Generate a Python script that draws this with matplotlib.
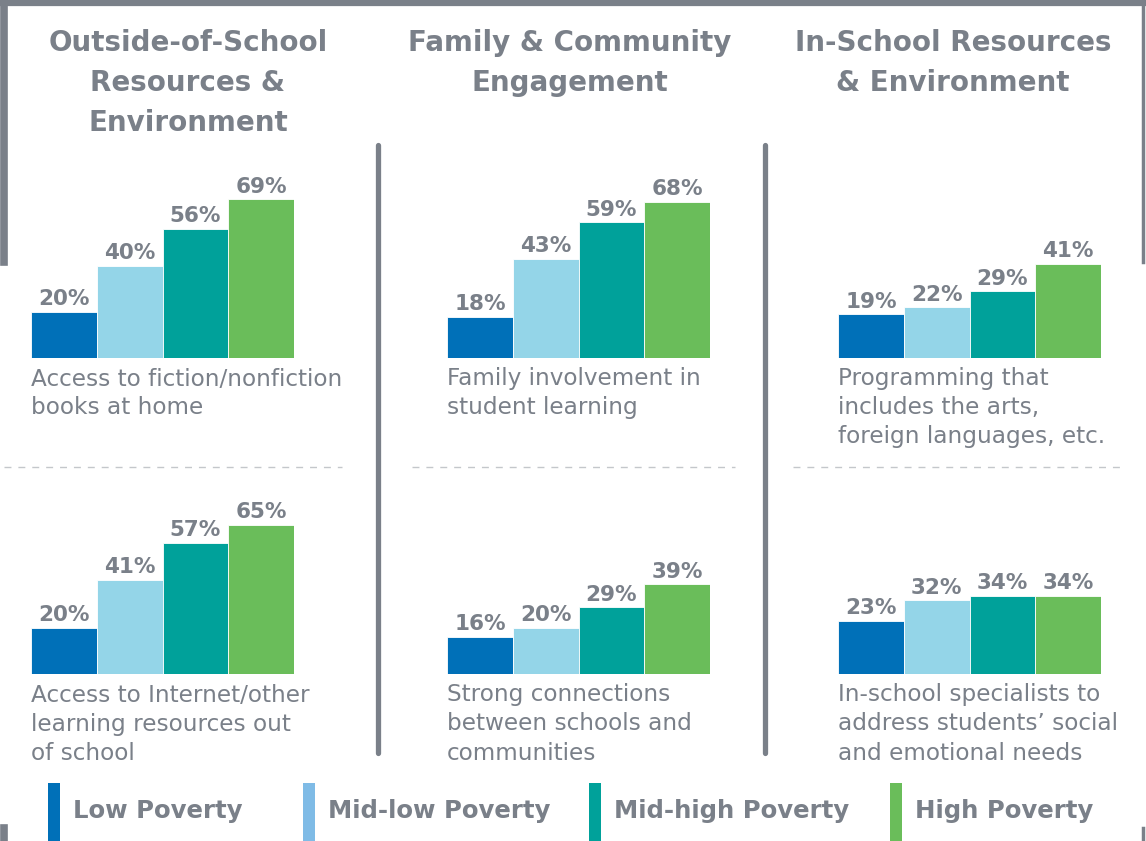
import matplotlib
matplotlib.use("Agg")
import matplotlib.pyplot as plt
from matplotlib.lines import Line2D
from matplotlib.patches import Rectangle

# data
groups = ["Low Poverty", "Mid-low Poverty", "Mid-high Poverty", "High Poverty"]
panel_titles = [
    ["Outside-of-School", "Resources &", "Environment"],
    ["Family & Community", "Engagement"],
    ["In-School Resources", "& Environment"],
]
top_labels = [
    ["Access to fiction/nonfiction", "books at home"],
    ["Family involvement in", "student learning"],
    ["Programming that", "includes the arts,", "foreign languages, etc."],
]
bottom_labels = [
    ["Access to Internet/other", "learning resources out", "of school"],
    ["Strong connections", "between schools and", "communities"],
    ["In-school specialists to", "address students\u2019 social", "and emotional needs"],
]
top_values = [[20, 40, 56, 69], [18, 43, 59, 68], [19, 22, 29, 41]]
bottom_values = [[20, 41, 57, 65], [16, 20, 29, 39], [23, 32, 34, 34]]

bar_colors = ["#0070b8", "#94d5e8", "#00a19a", "#6abd5a"]
legend_colors = ["#0070b8", "#7fbbe6", "#00a19a", "#6abd5a"]
gray = "#7a8089"

W, H = 1146, 841
fig = plt.figure(figsize=(W / 100, H / 100), dpi=100)
plt.rcParams["font.family"] = ["DejaVu Sans"]


def fx(x):
    return x / W


def fy(y):
    return 1 - y / H


def pline(xs, ys, **kw):
    fig.add_artist(Line2D([fx(x) for x in xs], [fy(y) for y in ys],
                          transform=fig.transFigure, **kw))


def lines_text(x, y, lines, pitch, **kw):
    for i, s in enumerate(lines):
        fig.text(fx(x), fy(y + i * pitch), s, va="center", **kw)


# frame pieces
pline([0, W], [3, 3], color=gray, lw=4.5)
pline([4, 4], [0, 262], color=gray, lw=5.5)
pline([1143, 1143], [0, 262], color=gray, lw=2.5)
pline([4, 4], [828, 841], color=gray, lw=5.5)
pline([1143, 1143], [828, 841], color=gray, lw=2.5)

# vertical separators
for x in [378, 765]:
    pline([x, x], [145, 753], color=gray, lw=3.8, solid_capstyle="round")

panel_x = [31, 447, 838]
title_cx = [188, 570, 953]
dash_x = [(4, 342), (412, 735), (793, 1120)]
baselines = [358, 674]
px_per_pct = 2.3
ymax = 80

for p in range(3):
    lines_text(title_cx[p], 43, panel_titles[p], 40, ha="center",
               fontsize=20, fontweight="bold", color=gray)
    pline(list(dash_x[p]), [467, 467], color="#c4c7cb", lw=1.0,
          dashes=(5, 5))
    for r, (vals, labels) in enumerate([(top_values[p], top_labels[p]),
                                        (bottom_values[p], bottom_labels[p])]):
        base = baselines[r]
        ax = fig.add_axes([fx(panel_x[p]), fy(base), 263 / W,
                           ymax * px_per_pct / H])
        xs = range(len(vals))
        ax.bar(xs, vals, width=1.0, color=bar_colors, edgecolor="white",
               linewidth=0.6)
        for i, v in zip(xs, vals):
            ax.annotate(f"{v}%", (i, v), xytext=(0, 2),
                        textcoords="offset points", ha="center", va="bottom",
                        fontsize=15.5, fontweight="bold", color=gray)
        ax.set_xlim(-0.5, 3.5)
        ax.set_ylim(0, ymax)
        ax.axis("off")
        lines_text(panel_x[p], base + 21, labels, 29, ha="left",
                   fontsize=16.7, color=gray)

# legend
leg_x = [48, 303, 589, 890]
for x, c, name in zip(leg_x, legend_colors, groups):
    fig.add_artist(Rectangle((fx(x), 0), 12 / W, 58 / H,
                             transform=fig.transFigure, color=c, lw=0))
    fig.text(fx(x + 25), fy(811), name, va="center", ha="left",
             fontsize=17.6, fontweight="bold", color=gray)

fig.savefig("out.png", dpi=100)
